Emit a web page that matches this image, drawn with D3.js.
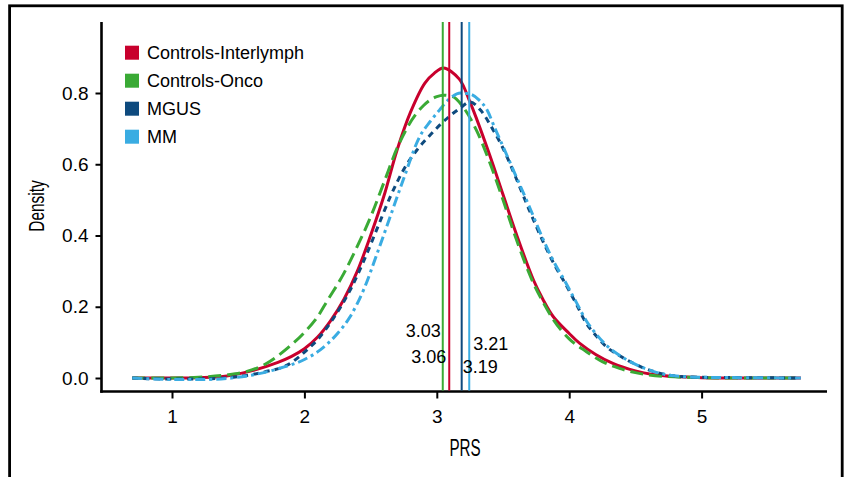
<!DOCTYPE html>
<html>
<head>
<meta charset="utf-8">
<script src="https://cdn.jsdelivr.net/npm/d3@7"></script>
<style>
  html, body { margin: 0; padding: 0; background: #fff; }
  svg { display: block; font-family: "Liberation Sans", Arial, sans-serif; }
</style>
</head>
<body>
<svg id="chart" width="848" height="477"></svg>
<script>
// Density curves, [PRS, density]
var controlsInterlymph = [
  [0.7, 0.000], [1.0, 0.000], [1.2, 0.001], [1.4, 0.005], [1.6, 0.020], [1.8, 0.044],
  [1.9, 0.060], [2.0, 0.082], [2.1, 0.115], [2.2, 0.162], [2.3, 0.222], [2.4, 0.300],
  [2.5, 0.400], [2.6, 0.510], [2.7, 0.640], [2.8, 0.745], [2.91, 0.828], [2.98, 0.855],
  [3.05, 0.870], [3.17, 0.839], [3.25, 0.775], [3.3, 0.728], [3.4, 0.625], [3.5, 0.515],
  [3.6, 0.405], [3.73, 0.275], [3.8, 0.222], [3.88, 0.172], [4.0, 0.125], [4.08, 0.097],
  [4.2, 0.066], [4.33, 0.041], [4.5, 0.020], [4.63, 0.010], [4.8, 0.004], [5.0, 0.001],
  [5.3, 0.000], [5.75, 0.000]
];
var controlsOnco = [
  [0.7, 0.000], [1.0, 0.000], [1.2, 0.002], [1.4, 0.008], [1.56, 0.018], [1.7, 0.038],
  [1.87, 0.083], [2.0, 0.128], [2.1, 0.172], [2.17, 0.215], [2.3, 0.295], [2.4, 0.370],
  [2.5, 0.452], [2.6, 0.548], [2.7, 0.645], [2.78, 0.705], [2.9, 0.765], [3.0, 0.790],
  [3.05, 0.794], [3.12, 0.790], [3.2, 0.760], [3.3, 0.695], [3.4, 0.605], [3.5, 0.500],
  [3.6, 0.390], [3.73, 0.266], [3.8, 0.215], [3.88, 0.164], [4.0, 0.110], [4.13, 0.074],
  [4.25, 0.046], [4.38, 0.027], [4.5, 0.015], [4.7, 0.005], [5.0, 0.001], [5.3, 0.000],
  [5.75, 0.000]
];
var mgus = [
  [0.7, 0.000], [1.0, -0.003], [1.3, -0.002], [1.5, 0.004], [1.7, 0.017], [1.87, 0.036],
  [2.02, 0.079], [2.1, 0.108], [2.22, 0.168], [2.35, 0.250], [2.45, 0.330], [2.55, 0.420],
  [2.65, 0.510], [2.75, 0.585], [2.85, 0.640], [2.95, 0.682], [3.09, 0.733], [3.175, 0.757],
  [3.25, 0.775], [3.33, 0.752], [3.42, 0.700], [3.5, 0.645], [3.6, 0.560], [3.7, 0.470],
  [3.8, 0.385], [3.9, 0.310], [3.955, 0.275], [4.05, 0.210], [4.13, 0.153], [4.2, 0.120],
  [4.28, 0.088], [4.37, 0.065], [4.46, 0.046], [4.55, 0.030], [4.64, 0.018], [4.79, 0.006],
  [5.0, 0.002], [5.3, 0.001], [5.75, 0.000]
];
var mm = [
  [0.7, 0.000], [1.0, -0.004], [1.25, -0.004], [1.45, 0.000], [1.6, 0.008], [1.82, 0.028],
  [2.0, 0.052], [2.12, 0.079], [2.25, 0.125], [2.345, 0.172], [2.45, 0.250], [2.55, 0.350],
  [2.65, 0.455], [2.75, 0.560], [2.87, 0.677], [2.95, 0.720], [3.02, 0.752], [3.1, 0.785],
  [3.18, 0.800], [3.25, 0.797], [3.32, 0.780], [3.38, 0.752], [3.44, 0.700], [3.5, 0.650],
  [3.6, 0.565], [3.7, 0.480], [3.8, 0.392], [3.9, 0.315], [3.955, 0.280], [4.05, 0.215],
  [4.13, 0.160], [4.2, 0.125], [4.28, 0.092], [4.37, 0.066], [4.46, 0.046], [4.55, 0.030],
  [4.64, 0.018], [4.79, 0.006], [5.0, 0.002], [5.3, 0.001], [5.75, 0.000]
];

var groupNames = ["Controls-Interlymph", "Controls-Onco", "MGUS", "MM"];
var groupColors = ["#c8002d", "#3aaa35", "#0e4a7e", "#3aace2"];
// vertical reference lines (position as drawn) and their printed labels
var meanLines = [3.094, 3.045, 3.188, 3.245];
var meanLabels = ["3.06", "3.03", "3.19", "3.21"];
var xTicks = [1, 2, 3, 4, 5];
var yTicks = [0.0, 0.2, 0.4, 0.6, 0.8];

var svg = d3.select("#chart");

var x = d3.scaleLinear().domain([1, 5]).range([172, 701.6]);
var y = d3.scaleLinear().domain([0, 0.8]).range([378, 93]);

// outer frame
svg.append("rect")
  .attr("x", 9.6).attr("y", 5.8)
  .attr("width", 832.6).attr("height", 520)
  .attr("fill", "none").attr("stroke", "#000").attr("stroke-width", 2.8);

// axes, drawn as an L offset from the data
var axisY = 391.5, axisX = 101.5;

var yAxis = svg.append("g")
  .attr("transform", `translate(${axisX},0)`)
  .call(d3.axisLeft(y).tickValues(yTicks).tickFormat(d3.format(".1f")).tickSize(6).tickPadding(7));
yAxis.select(".domain").remove();
yAxis.selectAll(".tick line").attr("stroke-width", 2);
yAxis.selectAll(".tick text").attr("font-size", 19).attr("fill", "#000")
  .attr("font-family", "Liberation Sans, Arial, sans-serif");

var xAxis = svg.append("g")
  .attr("transform", `translate(0,${axisY})`)
  .call(d3.axisBottom(x).tickValues(xTicks).tickFormat(d3.format("d")).tickSize(7).tickPadding(11));
xAxis.select(".domain").remove();
xAxis.selectAll(".tick line").attr("stroke-width", 2);
xAxis.selectAll(".tick text").attr("font-size", 19).attr("fill", "#000")
  .attr("font-family", "Liberation Sans, Arial, sans-serif");

svg.append("line")
  .attr("x1", axisX).attr("x2", axisX).attr("y1", 22).attr("y2", axisY + 1.3)
  .attr("stroke", "#000").attr("stroke-width", 2.6);
svg.append("line")
  .attr("x1", axisX - 1.3).attr("x2", 827).attr("y1", axisY).attr("y2", axisY)
  .attr("stroke", "#000").attr("stroke-width", 2.6);

// axis titles, condensed
svg.append("text")
  .attr("transform", "translate(465,456) scale(0.66,1)")
  .attr("text-anchor", "middle").attr("font-size", 23).text("PRS");
svg.append("text")
  .attr("transform", "translate(44,206) rotate(-90) scale(0.7,1)")
  .attr("text-anchor", "middle").attr("font-size", 22).text("Density");

// curves
var series = [controlsInterlymph, controlsOnco, mgus, mm];
var dashes = [null, "13,6", "6,5", "10,4,3,4"];
var curves = [d3.curveCatmullRom.alpha(0.5), d3.curveMonotoneX, d3.curveMonotoneX, d3.curveMonotoneX];

series.forEach(function (s, i) {
  var line = d3.line()
    .x(d => x(d[0]))
    .y(d => y(d[1]))
    .curve(curves[i]);
  svg.append("path")
    .datum(s)
    .attr("fill", "none")
    .attr("stroke", groupColors[i])
    .attr("stroke-width", 3)
    .attr("stroke-dasharray", dashes[i])
    .attr("stroke-linejoin", "round")
    .attr("d", line);
});

// vertical mean lines
svg.append("g")
  .selectAll("line")
  .data(meanLines)
  .join("line")
  .attr("x1", d => x(d)).attr("x2", d => x(d))
  .attr("y1", 22).attr("y2", axisY - 1)
  .attr("stroke", (d, i) => groupColors[i])
  .attr("stroke-width", 2);

// value labels beside the lines
var labelSpots = [
  { dx: -3, y: 362.7, anchor: "end" },
  { dx: -2, y: 336.7, anchor: "end" },
  { dx: 1, y: 372.7, anchor: "start" },
  { dx: 4, y: 350, anchor: "start" }
];
svg.append("g")
  .selectAll("text")
  .data(meanLabels)
  .join("text")
  .attr("x", (d, i) => x(meanLines[i]) + labelSpots[i].dx)
  .attr("y", (d, i) => labelSpots[i].y)
  .attr("text-anchor", (d, i) => labelSpots[i].anchor)
  .attr("font-size", 18)
  .text(d => d);

// legend
var legend = svg.append("g");
groupNames.forEach(function (name, i) {
  var cy = 52.7 + i * 28;
  legend.append("rect")
    .attr("x", 125).attr("y", cy - 7).attr("width", 14).attr("height", 14)
    .attr("fill", groupColors[i]);
  legend.append("text")
    .attr("x", 147).attr("y", cy + 6.5)
    .attr("font-size", 18)
    .text(name);
});
</script>
</body>
</html>
